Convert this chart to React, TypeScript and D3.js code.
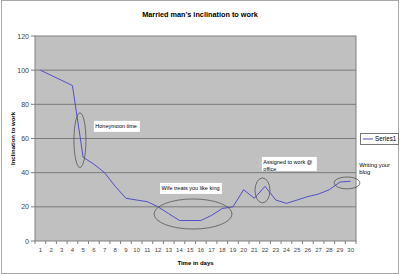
import React from "react";
import * as d3 from "d3";

const title = "Married man's inclination to work";
const days = [1, 2, 3, 4, 5, 6, 7, 8, 9, 10, 11, 12, 13, 14, 15, 16, 17, 18, 19, 20, 21, 22, 23, 24, 25, 26, 27, 28, 29, 30];
const series1 = [100, 97, 94, 91, 49, 45, 40, 32, 25, 24, 23, 20, 16, 12, 12, 12, 15, 19, 20, 30, 25, 32, 24, 22, 24, 26, 27.5, 30, 34.5, 35];
const yTicks = [0, 20, 40, 60, 80, 100, 120];
const seriesName = "Series1";

// annotations in data coordinates (day, value)
const ellipses = [
  { cx: 4.7, cy: 59, rx: 0.56, ry: 16 },
  { cx: 15.27, cy: 15.8, rx: 3.64, ry: 8.8 },
  { cx: 21.76, cy: 29.6, rx: 0.7, ry: 7.3 },
  { cx: 29.66, cy: 34, rx: 1.21, ry: 3.5 },
];
const notes = [
  { day: 6.0, value: 70.3, w: 46, h: 11, lines: ["Honeymoon time"] },
  { day: 12.18, value: 34, w: 62, h: 11, lines: ["Wife treats you like king"] },
  { day: 21.7, value: 49.2, w: 55, h: 14, lines: ["Assigned to work @", "office"] },
];
const sideNote = { day: 30.8, value: 43.5, lines: ["Writing your", "blog"] };

const W = 400;
const H = 275;
const plot = { left: 35, right: 356, top: 36, bottom: 241 };
const font = "'Liberation Sans', Arial, sans-serif";

export default function App() {
  const x = d3.scaleLinear().domain([0.5, days.length + 0.5]).range([plot.left, plot.right]);
  const y = d3.scaleLinear().domain([0, 120]).range([plot.bottom, plot.top]);
  const pts: [number, number][] = days.map((d, i) => [d, series1[i]]);
  const line = d3.line<[number, number]>().x((p) => x(p[0])).y((p) => y(p[1]));
  const xBounds = d3.range(0, days.length + 1).map((i) => i + 0.5);

  return (
    <svg width={W} height={H} style={{ position: "absolute", left: 0, top: 0, fontFamily: font }}>
      <rect x={0} y={0} width={W} height={H} fill="#ffffff" />
      <rect x={1.5} y={0.5} width={397} height={273} fill="none" stroke="#a8a8a8" />
      <text x={200} y={17} textAnchor="middle" fontSize={7.3} fontWeight="bold" fill="#000">
        {title}
      </text>
      {/* plot area */}
      <rect x={plot.left} y={plot.top} width={plot.right - plot.left} height={plot.bottom - plot.top} fill="#c0c0c0" />
      {yTicks.map((t) => (
        <g key={t}>
          {t > 0 && t < 120 && (
            <line x1={plot.left} x2={plot.right} y1={y(t)} y2={y(t)} stroke="#7a7a7a" strokeWidth={1} />
          )}
          <line x1={plot.left - 4} x2={plot.left} y1={y(t)} y2={y(t)} stroke="#808080" />
          <text x={plot.left - 6} y={y(t) + 2.5} textAnchor="end" fontSize={7} fill="#444">
            {t}
          </text>
        </g>
      ))}
      <rect x={plot.left} y={plot.top} width={plot.right - plot.left} height={plot.bottom - plot.top} fill="none" stroke="#808080" />
      {xBounds.map((b) => (
        <line key={b} x1={x(b)} x2={x(b)} y1={plot.bottom} y2={plot.bottom + 3} stroke="#808080" />
      ))}
      {days.map((d) => (
        <text key={d} x={x(d)} y={252} textAnchor="middle" fontSize={6} fill="#444">
          {d}
        </text>
      ))}
      <text x={(plot.left + plot.right) / 2} y={265} textAnchor="middle" fontSize={6} fontWeight="bold" fill="#000">
        Time in days
      </text>
      <text
        transform={`translate(15, ${(plot.top + plot.bottom) / 2}) rotate(-90)`}
        textAnchor="middle"
        fontSize={6}
        fontWeight="bold"
        fill="#000"
      >
        Inclination to work
      </text>
      {/* series */}
      <path d={line(pts) || ""} fill="none" stroke="#5050c8" strokeWidth={1} />
      {/* annotations */}
      {ellipses.map((e, i) => (
        <ellipse
          key={i}
          cx={x(e.cx)}
          cy={y(e.cy)}
          rx={x(e.cx + e.rx) - x(e.cx)}
          ry={y(e.cy - e.ry) - y(e.cy)}
          fill="none"
          stroke="#555"
          strokeWidth={0.8}
        />
      ))}
      {notes.map((n, i) => (
        <g key={i}>
          <rect x={x(n.day)} y={y(n.value)} width={n.w} height={n.h} fill="#fff" />
          {n.lines.map((l, j) => (
            <text key={j} x={x(n.day) + 1.5} y={y(n.value) + 7.5 + j * 6.5} fontSize={5.5} fill="#000">
              {l}
            </text>
          ))}
        </g>
      ))}
      {sideNote.lines.map((l, j) => (
        <text key={j} x={x(sideNote.day)} y={y(sideNote.value) + j * 7} fontSize={5.8} fill="#000">
          {l}
        </text>
      ))}
      {/* legend */}
      <rect x={360.5} y={133.5} width={38} height={11} fill="#fff" stroke="#777" />
      <line x1={363} x2={373} y1={139} y2={139} stroke="#5050c8" />
      <text x={375} y={141.3} fontSize={6.3} fill="#000">
        {seriesName}
      </text>
    </svg>
  );
}
